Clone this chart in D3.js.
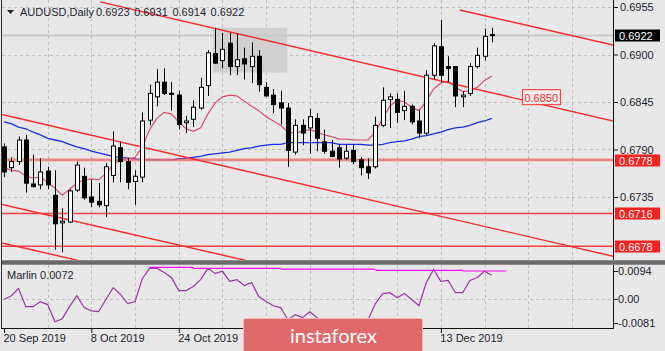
<!DOCTYPE html>
<html>
<head>
<meta charset="utf-8">
<script src="https://cdn.jsdelivr.net/npm/d3@7"></script>
<style>
  body { margin: 0; background: #e8e8e8; }
  svg { display: block; font-family: "Liberation Sans", Arial, sans-serif; }
</style>
</head>
<body>
<div id="chart"></div>
<script>
// Daily AUDUSD bars, 20 Sep 2019 .. 24 Dec 2019
var opens  = [0.6793,0.6769,0.6776,0.6801,0.6750,0.6749,0.6765,0.6737,0.6705,0.6706,0.6743,0.6759,0.6735,0.6730,0.6725,0.6760,0.6792,0.6776,0.6753,0.6758,
              0.6824,0.6851,0.6868,0.6855,0.6853,0.6821,0.6825,0.6838,0.6864,0.6901,0.6893,0.6913,0.6886,0.6895,0.6886,0.6898,0.6862,0.6853,0.6844,0.6838,
              0.6787,0.6818,0.6815,0.6826,0.6799,0.6788,0.6792,0.6780,0.6789,0.6778,0.6770,0.6770,0.6818,0.6848,0.6848,0.6835,0.6840,0.6823,0.6809,0.6876,
              0.6909,0.6886,0.6886,0.6851,0.6855,0.6886,0.6898,0.6923];
var highs  = [0.6797,0.6781,0.6805,0.6807,0.6784,0.6780,0.6770,0.6766,0.6722,0.6744,0.6776,0.6769,0.6755,0.6751,0.6774,0.6811,0.6799,0.6780,0.6766,0.6833,
              0.6865,0.6883,0.6884,0.6868,0.6858,0.6829,0.6847,0.6873,0.6905,0.6931,0.6925,0.6925,0.6924,0.6908,0.6914,0.6905,0.6868,0.6860,0.6858,0.6844,
              0.6825,0.6825,0.6837,0.6832,0.6813,0.6801,0.6796,0.6795,0.6795,0.6781,0.6780,0.6828,0.6862,0.6855,0.6855,0.6858,0.6842,0.6836,0.6882,0.6913,
              0.6940,0.6898,0.6886,0.6857,0.6890,0.6908,0.6930,0.6931];
var lows   = [0.6758,0.6764,0.6772,0.6740,0.6746,0.6744,0.6744,0.6674,0.6671,0.6705,0.6741,0.6732,0.6723,0.6723,0.6712,0.6752,0.6752,0.6744,0.6726,0.6752,
              0.6818,0.6840,0.6853,0.6835,0.6813,0.6809,0.6816,0.6836,0.6852,0.6889,0.6884,0.6876,0.6876,0.6871,0.6867,0.6857,0.6851,0.6832,0.6819,0.6770,
              0.6784,0.6795,0.6785,0.6788,0.6785,0.6781,0.6769,0.6778,0.6773,0.6760,0.6756,0.6768,0.6816,0.6815,0.6821,0.6824,0.6819,0.6803,0.6807,0.6871,
              0.6868,0.6868,0.6839,0.6839,0.6852,0.6884,0.6893,0.6914];
var closes = [0.6764,0.6776,0.6801,0.6751,0.6747,0.6764,0.6749,0.6704,0.6707,0.6742,0.6772,0.6734,0.6729,0.6726,0.6770,0.6794,0.6776,0.6752,0.6759,0.6823,
              0.6855,0.6868,0.6855,0.6854,0.6819,0.6823,0.6839,0.6862,0.6902,0.6890,0.6906,0.6886,0.6894,0.6889,0.6898,0.6865,0.6852,0.6842,0.6838,0.6789,
              0.6818,0.6809,0.6828,0.6803,0.6788,0.6782,0.6779,0.6788,0.6776,0.6769,0.6763,0.6818,0.6847,0.6851,0.6833,0.6840,0.6822,0.6809,0.6876,0.6910,
              0.6876,0.6884,0.6852,0.6853,0.6886,0.6899,0.6921,0.6922];

// moving averages
var maFast = [0.6769,0.6766,0.6765,0.6759,0.6757,0.6758,0.6752,0.6745,0.6737,0.6744,0.6751,0.6755,0.6756,0.6755,0.6762,0.6772,0.6779,0.6779,0.6781,0.6793,
              0.6813,0.6826,0.6833,0.6831,0.6822,0.6814,0.6811,0.6815,0.6831,0.6844,0.6851,0.6853,0.6852,0.6846,0.6840,0.6835,0.6828,0.6823,0.6818,0.6810,
              0.6809,0.6811,0.6813,0.6810,0.6807,0.6805,0.6802,0.6802,0.6801,0.6801,0.6801,0.6810,0.6826,0.6840,0.6847,0.6845,0.6839,0.6835,0.6846,0.6860,
              0.6867,0.6869,0.6862,0.6857,0.6858,0.6862,0.6870,0.6875];
var maSlow = [0.6822,0.6820,0.6816,0.6814,0.6810,0.6807,0.6803,0.6801,0.6799,0.6796,0.6793,0.6791,0.6788,0.6786,0.6784,0.6782,0.6781,0.6780,0.6779,0.6778,
              0.6778,0.6778,0.6778,0.6778,0.6779,0.6780,0.6781,0.6782,0.6784,0.6785,0.6786,0.6787,0.6789,0.6791,0.6792,0.6794,0.6795,0.6796,0.6796,0.6798,
              0.6798,0.6798,0.6798,0.6798,0.6798,0.6798,0.6796,0.6796,0.6796,0.6796,0.6795,0.6795,0.6796,0.6798,0.6799,0.6800,0.6802,0.6805,0.6806,0.6808,
              0.6810,0.6813,0.6815,0.6816,0.6818,0.6821,0.6823,0.6826];

// Marlin oscillator
var marlin = [-0.0002,0.0011,0.0035,-0.0026,-0.0026,-0.0009,-0.0019,-0.0077,-0.0067,-0.0026,0.0011,-0.0029,-0.0040,-0.0043,-0.0002,0.0038,0.0015,-0.0016,-0.0009,0.0069,
              0.0103,0.0103,0.0089,0.0072,0.0028,0.0028,0.0042,0.0065,0.0103,0.0086,0.0093,0.0059,0.0065,0.0045,0.0055,0.0008,-0.0009,-0.0023,-0.0029,-0.0070,
              -0.0053,-0.0063,-0.0043,-0.0063,-0.0077,-0.0084,-0.0091,-0.0084,-0.0087,-0.0094,-0.0070,-0.0016,0.0018,0.0021,0.0004,0.0018,-0.0002,-0.0023,0.0055,0.0099,
              0.0059,0.0062,0.0021,0.0021,0.0062,0.0072,0.0093,0.0080];
// stepped upper level of Marlin: [fromBar, toBar, value]
var marlinMax = [[20,26,0.0106],[26,38,0.0103],[38,51,0.0100],[51,63,0.0096],[63,69,0.0094]];

// axis labels (11 Nov and 27 Nov sit under the watermark, so not shown)
var priceTicks = [0.6955, 0.6900, 0.6845, 0.6790, 0.6735];
var marlinTicks = [0.0094, 0.00, -0.0081];
var marlinTickLabels = ["0.0094", "0.00", "-0.0081"];
var dateTicks = ["20 Sep 2019", "8 Oct 2019", "24 Oct 2019", "13 Dec 2019"];
var dateTickBars = [0, 12, 24, 60];

// drawn objects
var levels = [0.6778, 0.6716, 0.6678];
var lastPrice = 0.6922;
// trend lines as [bar1, price1, bar2, price2]
var trendLines = [
  [13.2, 0.6961, 83.65, 0.6823],
  [62.6, 0.69515, 83.65, 0.6911],
  [-0.27, 0.68305, 83.65, 0.66664],
  [-0.27, 0.67263, 83.65, 0.65640],
  [-0.27, 0.66817, 83.65, 0.65200]
];
var zone = {bar1: 28.7, bar2: 38.9, top: 0.6931, bottom: 0.6879};

// ---- layout
var W = 665, H = 351;
var left = 2, right = 613;
var mainTop = 0, mainBottom = 261;
var indTop = 265, indBottom = 328;

var svg = d3.select("#chart").append("svg")
    .attr("width", W).attr("height", H);

svg.append("rect").attr("width", W).attr("height", H).attr("fill", "#e8e8e8");

var x = d3.scaleLinear().domain([0, 67]).range([4, 491.8]);
var y = d3.scaleLinear().domain([0.6735, 0.6955]).range([197, 7]);
var yInd = d3.scaleLinear().domain([-0.0081, 0.0094]).range([323, 271]);

svg.append("clipPath").attr("id", "clipMain")
  .append("rect").attr("x", left).attr("y", mainTop).attr("width", right - left).attr("height", mainBottom - mainTop);
svg.append("clipPath").attr("id", "clipInd")
  .append("rect").attr("x", left).attr("y", indTop).attr("width", right - left).attr("height", indBottom - indTop);

var gridColor = "#bdbdbd";

// vertical grid in both panes
var gridBars = d3.range(6, 84, 6).filter(function (b) { return x(b) < right; });
[[mainTop, mainBottom], [indTop, indBottom]].forEach(function (p) {
  svg.append("g").selectAll("line").data(gridBars).enter().append("line")
    .attr("x1", d => Math.round(x(d)) + 0.5).attr("x2", d => Math.round(x(d)) + 0.5)
    .attr("y1", p[0]).attr("y2", p[1])
    .attr("stroke", gridColor).attr("stroke-dasharray", "3,3");
});

// horizontal grid
svg.append("g").selectAll("line").data(priceTicks).enter().append("line")
  .attr("x1", left).attr("x2", right)
  .attr("y1", d => Math.round(y(d)) + 0.5).attr("y2", d => Math.round(y(d)) + 0.5)
  .attr("stroke", gridColor).attr("stroke-dasharray", "3,3");
svg.append("line")
  .attr("x1", left).attr("x2", right)
  .attr("y1", Math.round(yInd(0)) + 0.5).attr("y2", Math.round(yInd(0)) + 0.5)
  .attr("stroke", gridColor).attr("stroke-dasharray", "3,3");

var main = svg.append("g").attr("clip-path", "url(#clipMain)");

// shaded zone
main.append("rect")
  .attr("x", x(zone.bar1)).attr("y", y(zone.top))
  .attr("width", x(zone.bar2) - x(zone.bar1)).attr("height", y(zone.bottom) - y(zone.top))
  .attr("fill", "#d0d0d0");

// last price line
main.append("line")
  .attr("x1", left).attr("x2", right)
  .attr("y1", y(lastPrice)).attr("y2", y(lastPrice))
  .attr("stroke", "#c9c9c9").attr("stroke-width", 2);

// moving averages
var maLine = d3.line().x((d, i) => x(i)).y(d => y(d));
main.append("path").datum(maSlow).attr("d", maLine)
  .attr("fill", "none").attr("stroke", "#1a2cf0").attr("stroke-width", 1.3);
main.append("path").datum(maFast).attr("d", maLine)
  .attr("fill", "none").attr("stroke", "#e04a68").attr("stroke-width", 1.2);

// horizontal levels
main.append("g").selectAll("line").data(levels).enter().append("line")
  .attr("x1", left).attr("x2", right)
  .attr("y1", d => y(d)).attr("y2", d => y(d))
  .attr("stroke", (d, i) => i === 0 ? "#f06a6a" : "#ff3030")
  .attr("stroke-opacity", (d, i) => i === 0 ? 0.8 : 0.9)
  .attr("stroke-width", (d, i) => i === 0 ? 2.6 : 1.5);

// trend lines
main.append("g").selectAll("line").data(trendLines).enter().append("line")
  .attr("x1", d => x(d[0])).attr("y1", d => y(d[1]))
  .attr("x2", d => x(d[2])).attr("y2", d => y(d[3]))
  .attr("stroke", "#ff2a2a").attr("stroke-width", 1.4);

// candles
var bars = d3.range(opens.length);
var candles = main.append("g");
candles.selectAll("line").data(bars).enter().append("line")
  .attr("x1", i => Math.round(x(i)) + 0.5).attr("x2", i => Math.round(x(i)) + 0.5)
  .attr("y1", i => y(highs[i])).attr("y2", i => y(lows[i]))
  .attr("stroke", "#000").attr("stroke-width", 1);
candles.selectAll("rect").data(bars).enter().append("rect")
  .attr("x", i => Math.round(x(i)) - 1.5)
  .attr("y", i => y(Math.max(opens[i], closes[i])))
  .attr("width", 4)
  .attr("height", i => Math.max(1, y(Math.min(opens[i], closes[i])) - y(Math.max(opens[i], closes[i]))))
  .attr("fill", i => closes[i] >= opens[i] ? "#ffffff" : "#000000")
  .attr("stroke", "#000").attr("stroke-width", 1);

// label on trend line
var lbl = main.append("g");
lbl.append("rect")
  .attr("x", x(71.2)).attr("y", y(0.6850) - 8)
  .attr("width", 38).attr("height", 15)
  .attr("fill", "#ededed").attr("stroke", "#ff2a2a").attr("stroke-width", 1);
lbl.append("text")
  .attr("x", x(71.2) + 2).attr("y", y(0.6850) + 4)
  .attr("font-size", 11).attr("fill", "#ff2a2a").text("0.6850");

// ---- indicator pane
var ind = svg.append("g").attr("clip-path", "url(#clipInd)");
ind.selectAll("line.mx").data(marlinMax).enter().append("line")
  .attr("x1", d => x(d[0])).attr("x2", d => x(d[1]))
  .attr("y1", d => yInd(d[2])).attr("y2", d => yInd(d[2]))
  .attr("stroke", "#ff00ff").attr("stroke-width", 1.2);
ind.append("path").datum(marlin)
  .attr("d", d3.line().x((d, i) => x(i)).y(d => yInd(d)))
  .attr("fill", "none").attr("stroke", "#9c34a8").attr("stroke-width", 1.2);

svg.append("text").attr("x", 7).attr("y", 279)
  .attr("font-size", 11).attr("fill", "#1e1e2e").text("Marlin 0.0072");

// ---- frames
svg.append("rect").attr("x", left).attr("y", 260).attr("width", W - left).attr("height", 5)
  .attr("fill", "#8c8c8c");
svg.append("rect").attr("x", left).attr("y", 261).attr("width", W - left).attr("height", 3)
  .attr("fill", "#6a6a6a");
svg.append("line").attr("x1", left - 0.5).attr("x2", left - 0.5).attr("y1", 0).attr("y2", indBottom)
  .attr("stroke", "#333");
svg.append("line").attr("x1", right + 0.5).attr("x2", right + 0.5).attr("y1", 0).attr("y2", 260)
  .attr("stroke", "#111");
svg.append("line").attr("x1", right + 0.5).attr("x2", right + 0.5).attr("y1", 265).attr("y2", indBottom + 1)
  .attr("stroke", "#111");
svg.append("line").attr("x1", left - 1).attr("x2", right + 1).attr("y1", indBottom + 0.5).attr("y2", indBottom + 0.5)
  .attr("stroke", "#111");

// ---- axes
var textColor = "#1e1e2e";
var yAxis = svg.append("g").attr("transform", "translate(" + (right + 1) + ",0)")
  .call(d3.axisRight(y).tickValues(priceTicks).tickFormat(d3.format(".4f")).tickSize(4).tickPadding(2));
var indAxis = svg.append("g").attr("transform", "translate(" + (right + 1) + ",0)")
  .call(d3.axisRight(yInd).tickValues(marlinTicks).tickFormat((d, i) => marlinTickLabels[i]).tickSize(4).tickPadding(0));
var xAxis = svg.append("g").attr("transform", "translate(0," + (indBottom + 1) + ")")
  .call(d3.axisBottom(x).tickValues(dateTickBars).tickFormat((d, i) => dateTicks[i]).tickSize(4).tickPadding(1));
[yAxis, indAxis, xAxis].forEach(function (a) {
  a.select(".domain").remove();
  a.selectAll("line").attr("stroke", "#111");
  a.selectAll("text").attr("fill", textColor).attr("font-size", 11)
    .attr("font-family", "'Liberation Sans', Arial, sans-serif");
});
xAxis.selectAll("text").attr("text-anchor", "start").attr("dx", -1);

// price boxes on the right axis
var boxes = [{v: lastPrice, bg: "#000000"}].concat(levels.map(function (v) { return {v: v, bg: "#ff1f1f"}; }));
var bx = svg.append("g").selectAll("g").data(boxes).enter().append("g");
bx.append("rect")
  .attr("x", right + 2).attr("y", d => Math.round(y(d.v)) - 5.5)
  .attr("width", 45).attr("height", 12).attr("fill", d => d.bg);
bx.append("text")
  .attr("x", right + 6).attr("y", d => Math.round(y(d.v)) + 4.5)
  .attr("font-size", 11).attr("fill", "#fff").text(d => d3.format(".4f")(d.v));

// ---- title
svg.append("path").attr("d", "M7,10 L14,10 L10.5,14 Z").attr("fill", "#1e1e2e");
svg.append("text").attr("x", 20).attr("y", 16).attr("font-size", 11).attr("fill", textColor)
  .text("AUDUSD,Daily");
svg.append("text").attr("x", 96).attr("y", 16).attr("font-size", 11).attr("fill", textColor)
  .attr("word-spacing", 1.5)
  .text([opens[67], highs[67], lows[67], closes[67]].map(d3.format(".4f")).join(" "));

// ---- watermark logo
svg.append("rect").attr("x", 243.5).attr("y", 318.5).attr("width", 179).attr("height", 40).attr("rx", 2)
  .attr("fill", "#e26969").attr("stroke", "#f3b8b8");
svg.append("text").attr("x", 290).attr("y", 343).attr("font-family", "Lato, 'Open Sans', sans-serif")
  .attr("font-size", 20).attr("fill", "#ffffff").text("instaforex");
</script>
</body>
</html>
